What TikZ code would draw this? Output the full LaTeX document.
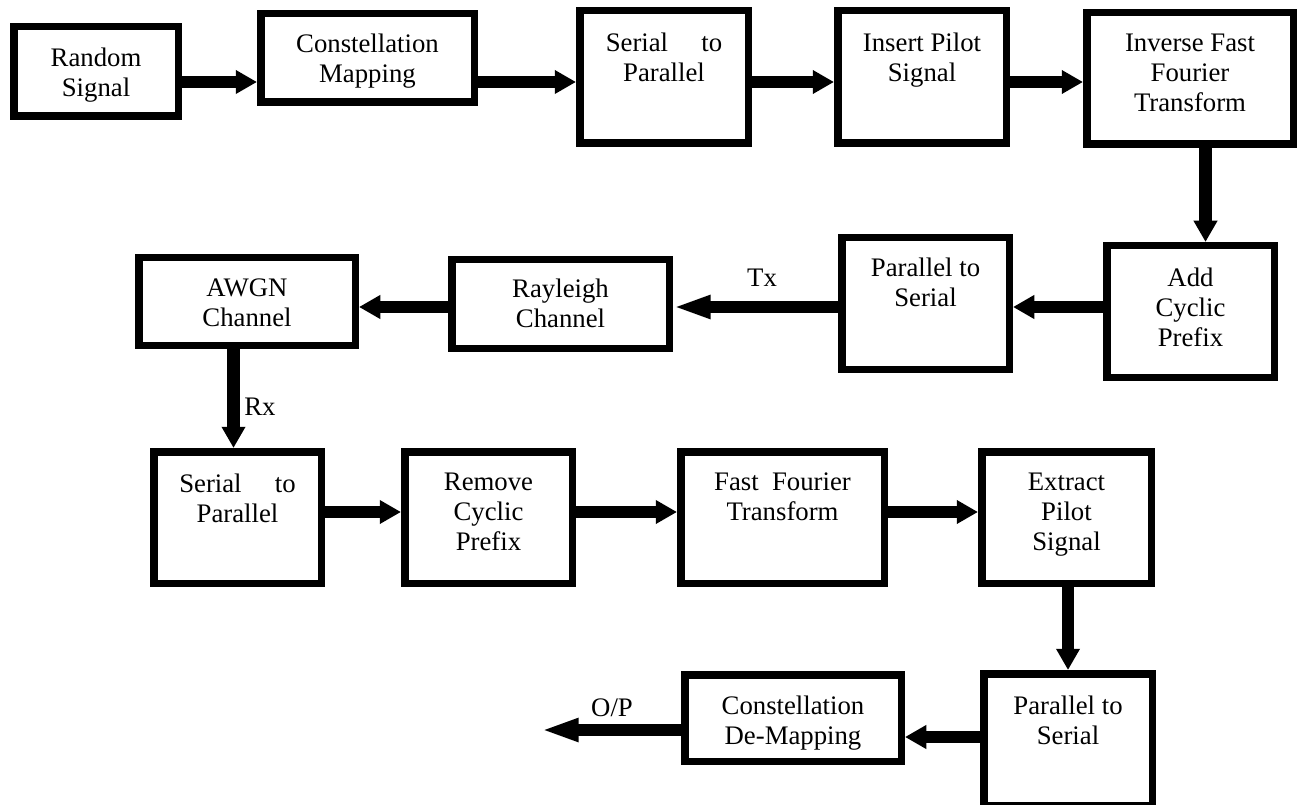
\documentclass[tikz,border=0pt]{standalone}
\usepackage{fontspec}
\setmainfont{Liberation Serif}
\usetikzlibrary{arrows.meta}

\tikzset{
  blk/.style 2 args={draw, line width=3pt, minimum width=#1*0.4pt-3pt, minimum height=#2*0.4pt-3pt, inner sep=0pt},
  lbl/.style={anchor=north, align=center, inner sep=0pt, font=\fontsize{10.7pt}{12pt}\selectfont},
  flow/.style={line width=5pt, -{Triangle[length=8.5pt,width=9pt]}},
  flowlong/.style={line width=5pt, -{Triangle[length=15pt,width=8.5pt]}},
}

\begin{document}
\begin{tikzpicture}[x=0.4pt, y=-0.4pt]
\useasboundingbox (0,0) rectangle (1298,805);

% transmitter
\node[blk={172}{97}]  (rand)   at (96,71.5)    {};
\node[blk={221}{96}]  (const)  at (367.5,58)   {};
\node[blk={176}{140}] (sp1)    at (664,77)     {};
\node[blk={176}{140}] (pilot)  at (922,77)     {};
\node[blk={214}{139}] (ifft)   at (1190,78.5)  {};
\node[blk={175}{139}] (addcp)  at (1190.5,311.5) {};
\node[blk={175}{139}] (ps1)    at (925.5,303.5) {};

% channel
\node[blk={225}{96}]  (ray)    at (560.5,304)  {};
\node[blk={224}{95}]  (awgn)   at (247,301.5)  {};

% receiver
\node[blk={175}{139}] (sp2)    at (237.5,517.5) {};
\node[blk={175}{139}] (rmcp)   at (488.5,517.5) {};
\node[blk={211}{139}] (fft)    at (782.5,517.5) {};
\node[blk={177}{139}] (pilotx) at (1066.5,517.5) {};
\node[blk={176}{139}] (ps2)    at (1068,739.5) {};
\node[blk={224}{94}]  (demap)  at (793,718)    {};

% texts
\node[lbl] (rand-t)   at (96,47)     {Random\\Signal};
\node[lbl] (const-t)  at (367.5,33)  {Constellation\\Mapping};
\node[lbl, text width=46.6pt] (sp1-t) at (664,32) {Serial\hfill to\\Parallel};
\node[lbl] (pilot-t)  at (922,32)    {Insert Pilot\\Signal};
\node[lbl] (ifft-t)   at (1190,33)   {Inverse Fast\\Fourier\\Transform};
\node[lbl] (addcp-t)  at (1190.5,267) {Add\\Cyclic\\Prefix};
\node[lbl] (ps1-t)    at (925.5,257) {Parallel to\\Serial};
\node[lbl] (ray-t)    at (560.5,278) {Rayleigh\\Channel};
\node[lbl] (awgn-t)   at (247,278)   {AWGN\\Channel};
\node[lbl, text width=46.6pt] (sp2-t) at (237.5,473) {Serial\hfill to\\Parallel};
\node[lbl] (rmcp-t)   at (488.5,472) {Remove\\Cyclic\\Prefix};
\node[lbl] (fft-t)    at (782.5,472) {Fast\ \ Fourier\\Transform};
\node[lbl] (pilotx-t) at (1066.5,472) {Extract\\Pilot\\Signal};
\node[lbl] (ps2-t)    at (1068,695)  {Parallel to\\Serial};
\node[lbl] (demap-t)  at (793,695)   {Constellation\\De-Mapping};

\node[lbl] (tx) at (762,268) {Tx};
\node[lbl] (rx) at (260,397) {Rx};
\node[lbl] (op) at (612,698) {O/P};

% rows and columns of the arrows
\coordinate (r1) at (0,82);
\coordinate (r2) at (0,307);
\coordinate (r3) at (0,512);
\coordinate (r4) at (0,737);
\coordinate (v1) at (1205.5,0);
\coordinate (v2) at (233.5,0);
\coordinate (v3) at (1068,0);
\coordinate (out) at (541,730);

\draw[flow] (rand.east|-r1) -- (const.west|-r1);
\draw[flow] (const.east|-r1) -- (sp1.west|-r1);
\draw[flow] (sp1.east|-r1) -- (pilot.west|-r1);
\draw[flow] (pilot.east|-r1) -- (ifft.west|-r1);
\draw[flow] (ifft.south-|v1) -- (addcp.north-|v1);

\draw[flow] (addcp.west|-r2) -- (ps1.east|-r2);
\draw[flowlong] (ps1.west|-r2) -- (ray.east|-r2);
\draw[flow] (ray.west|-r2) -- (awgn.east|-r2);
\draw[flow] (awgn.south-|v2) -- (sp2.north-|v2);

\draw[flow] (sp2.east|-r3) -- (rmcp.west|-r3);
\draw[flow] (rmcp.east|-r3) -- (fft.west|-r3);
\draw[flow] (fft.east|-r3) -- (pilotx.west|-r3);
\draw[flow] (pilotx.south-|v3) -- (ps2.north-|v3);

\draw[flow] (ps2.west|-r4) -- (demap.east|-r4);
\draw[flowlong] (demap.west|-out) -- (out);

\end{tikzpicture}
\end{document}
